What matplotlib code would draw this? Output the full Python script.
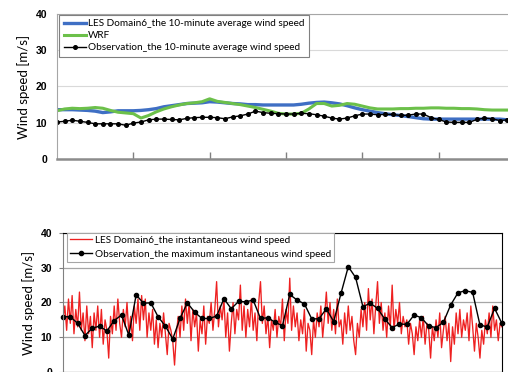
import numpy as np
import matplotlib.pyplot as plt

# ---- top panel: 10-minute averages (one value per 10 min step) ----
obs_avg = [10.2, 10.4, 10.7, 10.4, 10.1, 9.7, 9.7, 9.7, 9.7, 9.3,
           9.9, 10.2, 10.8, 11.0, 11.0, 10.9, 10.8, 11.2, 11.4, 11.5,
           11.5, 11.4, 11.1, 11.6, 11.9, 12.4, 13.2, 12.8, 12.6, 12.5,
           12.4, 12.4, 12.6, 12.5, 12.2, 11.8, 11.3, 11.0, 11.3, 11.9,
           12.4, 12.4, 12.2, 12.3, 12.3, 12.0, 12.1, 12.4, 12.4, 11.4,
           10.9, 10.2, 10.1, 10.1, 10.1, 10.9, 11.3, 11.1, 10.6, 10.8]

les_avg = [13.6, 13.6, 13.6, 13.5, 13.4, 13.2, 12.8, 13.0, 13.3, 13.3,
           13.3, 13.4, 13.6, 13.9, 14.4, 14.7, 15.0, 15.3, 15.4, 15.5,
           15.8, 15.7, 15.5, 15.3, 15.2, 15.0, 15.0, 14.9, 14.9, 14.9,
           14.9, 14.9, 15.1, 15.4, 15.6, 15.7, 15.5, 15.2, 14.7, 14.1,
           13.6, 13.2, 12.8, 12.5, 12.2, 12.0, 11.7, 11.4, 11.1, 11.0,
           11.0, 11.0, 11.0, 11.0, 11.0, 11.0, 11.0, 11.0, 11.0, 10.8]

wrf = [13.3, 13.8, 14.0, 13.9, 14.0, 14.2, 14.0, 13.4, 12.9, 12.7,
       12.5, 11.3, 12.0, 13.0, 13.8, 14.4, 14.9, 15.3, 15.5, 15.8,
       16.6, 15.9, 15.6, 15.3, 15.0, 14.6, 14.2, 13.7, 13.2, 12.6,
       12.4, 12.4, 12.6, 13.8, 15.3, 15.3, 14.6, 14.8, 15.3, 15.1,
       14.6, 14.1, 13.8, 13.8, 13.8, 13.9, 13.9, 14.0, 14.0, 14.1,
       14.1, 14.0, 14.0, 13.9, 13.9, 13.8, 13.6, 13.5, 13.5, 13.5]

# ---- bottom panel: instantaneous values ----
obs_max = [15.9, 15.9, 14.0, 10.5, 12.6, 13.2, 11.8, 14.8, 16.4, 10.6,
           22.2, 19.8, 19.9, 15.9, 13.2, 9.5, 15.4, 19.9, 17.2, 15.4,
           15.4, 16.1, 21.1, 18.2, 20.3, 20.2, 20.7, 15.4, 15.6, 14.3,
           13.3, 22.3, 20.7, 19.6, 15.3, 15.3, 18.2, 14.5, 22.6, 30.3,
           27.2, 18.8, 19.8, 18.3, 15.2, 12.8, 13.8, 13.7, 16.4, 15.6,
           13.2, 12.8, 14.3, 19.3, 22.8, 23.4, 22.9, 13.5, 13.0, 18.3,
           14.0]

# LES instantaneous, four samples per observation step
les_inst = [15, 19, 12, 21, 14, 22, 11, 18, 13, 23, 12, 17, 9, 19, 11, 16,
            7, 17, 12, 19, 10, 18, 8, 15, 12, 4, 16, 11, 19, 12, 21, 14,
            10, 18, 13, 20, 11, 16, 9, 19, 14, 21, 12, 22, 15, 21, 10, 17,
            12, 18, 8, 15, 7, 14, 10, 17, 11, 5, 14, 12, 9, 2, 11, 16,
            10, 19, 12, 21, 14, 20, 9, 18, 13, 17, 6, 15, 11, 19, 8, 16,
            14, 20, 12, 18, 26, 13, 19, 15, 21, 10, 17, 6, 14, 20, 11, 18,
            15, 25, 12, 19, 10, 18, 13, 21, 12, 17, 9, 20, 26, 14, 19, 11,
            16, 7, 15, 12, 18, 10, 16, 13, 21, 9, 18, 14, 27, 12, 19, 13,
            17, 9, 15, 11, 18, 6, 14, 12, 5, 15, 10, 17, 13, 19, 10, 16,
            23, 14, 20, 12, 18, 11, 21, 13, 15, 8, 17, 11, 19, 12, 16, 9,
            5, 14, 10, 18, 13, 20, 12, 24, 15, 21, 11, 19, 26, 14, 20, 12,
            17, 10, 19, 13, 25, 12, 18, 14, 20, 11, 16, 13, 15, 8, 14, 11,
            5, 13, 9, 15, 10, 16, 8, 14, 12, 4, 13, 9, 15, 10, 17, 7,
            12, 16, 9, 14, 3, 13, 8, 17, 11, 18, 10, 15, 12, 17, 9, 19,
            13, 6, 14, 10, 4, 12, 8, 15, 11, 17, 10, 19, 12, 15, 9, 14,
            13]

txt_font = ['Lato', 'DejaVu Sans']
tick_font = 'Liberation Sans'

fig = plt.figure(figsize=(5.08, 3.72), dpi=100)

# ---------------- top axes ----------------
ax1 = fig.add_axes([0.1122, 0.5726, 0.9016, 0.3898])
x_top = np.arange(len(obs_avg))
ax1.plot(x_top, les_avg, color='#3F6FC4', lw=2.4, label='LES Domain6_the 10-minute average wind speed')
ax1.plot(x_top, wrf, color='#6CC04A', lw=2.2, label='WRF')
ax1.plot(x_top, obs_avg, color='black', lw=1.0, marker='o', ms=2.6,
         label='Observation_the 10-minute average wind speed')
ax1.set_xlim(0, 60)
ax1.set_ylim(0, 40)
ax1.set_yticks([0, 10, 20, 30, 40])
ax1.set_xticks([10, 20, 30, 40, 50])
ax1.set_xticklabels([])
ax1.tick_params(axis='x', direction='in', length=5, color='#808080', width=1)
ax1.tick_params(axis='y', length=0, pad=7)
ax1.grid(axis='y', color='#D9D9D9', lw=0.8)
ax1.set_axisbelow(True)
for s in ['top', 'left', 'right']:
    ax1.spines[s].set_color('#A6A6A6')
    ax1.spines[s].set_linewidth(0.8)
ax1.spines['bottom'].set_color('#8C8C8C')
ax1.spines['bottom'].set_linewidth(1.8)
ax1.set_ylabel('Wind speed [m/s]', family=txt_font, fontsize=9.5, labelpad=4)
leg1 = ax1.legend(loc='upper left', bbox_to_anchor=(0.003, 1.0), borderaxespad=0.1,
                  prop={'family': txt_font, 'size': 7.2}, handlelength=2.2,
                  handletextpad=0.2, labelspacing=0.28, borderpad=0.45,
                  fancybox=False, framealpha=1)
leg1.get_frame().set_edgecolor('#808080')
leg1.get_frame().set_linewidth(0.8)

# ---------------- bottom axes ----------------
ax2 = fig.add_axes([0.124, 0.0, 0.864, 0.3737])
x_inst = np.arange(len(les_inst)) * 0.25
x_max = np.arange(len(obs_max))
ax2.plot(x_inst, les_inst, color='#EE2020', lw=0.95, label='LES Domain6_the instantaneous wind speed')
ax2.plot(x_max, obs_max, color='black', lw=1.0, marker='o', ms=3.0,
         label='Observation_the maximum instantaneous wind speed', clip_on=False)
ax2.set_xlim(0, 60)
ax2.set_ylim(0, 40)
ax2.set_yticks([0, 10, 20, 30, 40])
ax2.set_xticks([])
ax2.tick_params(axis='y', length=3, color='#808080', pad=5)
ax2.grid(axis='y', color='#A6A6A6', lw=0.9)
ax2.set_axisbelow(True)
ax2.spines['top'].set_color('black')
ax2.spines['right'].set_color('black')
ax2.spines['left'].set_color('#808080')
ax2.spines['bottom'].set_color('#808080')
ax2.set_ylabel('Wind speed [m/s]', family=txt_font, fontsize=9.5, labelpad=4)
leg2 = ax2.legend(loc='upper left', bbox_to_anchor=(0.008, 1.0), borderaxespad=0.0,
                  prop={'family': txt_font, 'size': 7.2}, handlelength=2.2,
                  handletextpad=0.3, labelspacing=0.5, borderpad=0.3,
                  fancybox=False, framealpha=1)
leg2.get_frame().set_edgecolor('#A6A6A6')
leg2.get_frame().set_linewidth(0.8)

for ax in (ax1, ax2):
    for lab in ax.get_yticklabels():
        lab.set_family(tick_font)
        lab.set_fontweight('bold')
        lab.set_fontsize(7.5)

fig.savefig('out.png', dpi=100)
